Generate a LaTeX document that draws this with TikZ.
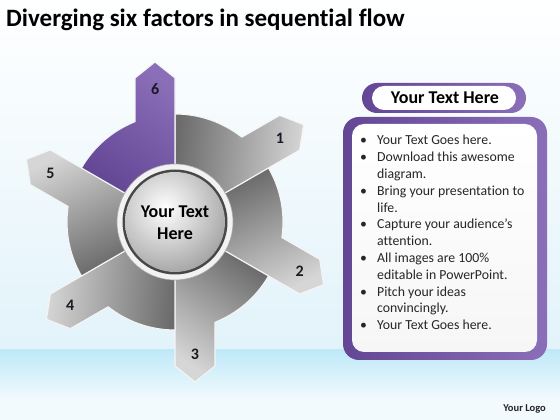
\documentclass[tikz,border=0pt]{standalone}
\usepackage{fontspec}
\setmainfont{Carlito}[Ligatures=NoCommon]
\usetikzlibrary{calc}
\definecolor{bgbot}{HTML}{E2F3FA}
\definecolor{bandtop}{HTML}{BFE9F8}
\definecolor{bandbot}{HTML}{F2FAFD}
\definecolor{glight}{HTML}{D6D6D6}
\definecolor{gdark}{HTML}{6C6C6C}
\definecolor{plight}{HTML}{8A6EB8}
\definecolor{pdark}{HTML}{634795}
\definecolor{numcol}{HTML}{1A1A24}
\newcommand{\sectorpath}[1]{(#1:57pt) -- (#1:144pt) -- ({#1+7.125}:161.25pt) -- ({#1+15.52}:149.45pt) -- ({#1+21.74}:108pt) arc[start angle={#1+21.74}, end angle={#1+60}, radius=108pt] -- ({#1+60}:57pt) arc[start angle={#1+60}, end angle=#1, radius=57pt] -- cycle}
\tikzset{
  numlabel/.style={font=\bfseries\fontsize{16}{18}\selectfont, text=numcol, inner sep=0pt},
  listline/.style={anchor=base west, inner sep=0pt, font=\fontsize{13.8}{16}\selectfont, text=black!85},
  sectorline/.style={draw=white!92!gray, line width=1.1pt, line join=round}
}
\begin{document}
\begin{tikzpicture}[x=1pt,y=1pt]
\useasboundingbox (0,0) rectangle (560,420);
% background
\shade[top color=white, bottom color=bgbot] (0,70) rectangle (560,420);
\shade[top color=bandtop, bottom color=bandbot] (0,20) rectangle (560,70);
\fill[bandbot] (0,0) rectangle (560,20.5);
% title
\node[anchor=base west, inner sep=0pt, font=\bfseries\fontsize{25}{28}\selectfont] (title) at (6,393) {Diverging six factors in sequential flow};
% wheel
\begin{scope}[shift={(175,198)}]
\foreach \a/\n/\lc/\dc in {30/1/glight/gdark, -30/2/glight/gdark, -90/3/glight/gdark, -150/4/glight/gdark, 150/5/glight/gdark, 90/6/plight/pdark}{
  \pgfmathsetmacro\sa{\a-125}
  \shade[top color=\lc, bottom color=\dc, shading angle=\sa, sectorline] \sectorpath{\a};
  \node[numlabel] (n\n) at ({\a+8.5}:134pt) {\n};
}
\fill[white!90!gray] (0,0) circle[radius=58pt];
\draw[gray!70, line width=0.6pt] (0,0) circle[radius=58pt];
\fill[black!72] (0,0) circle[radius=52.5pt];
\begin{scope}
\clip (0,0) circle[radius=50pt];
\shade[inner color=white, outer color=black!38] (-10,14) circle[radius=72pt];
\end{scope}
\node[align=center, font=\bfseries\fontsize{18}{22}\selectfont, inner sep=0pt] (ctr) at (0,-1) {Your Text\\Here};
\end{scope}
% right panel
\shade[left color=pdark, right color=plight, rounded corners=16pt] (343,60) rectangle (547,303);
\shade[top color=white, bottom color=white!93!gray, rounded corners=12pt] (352,68) rectangle (537,296);
\shade[left color=pdark, right color=plight, rounded corners=15pt] (362,307) rectangle (526,337);
\fill[white, rounded corners=12pt] (372,310) rectangle (516,334);
\node[font=\bfseries\fontsize{18}{20}\selectfont, inner sep=0pt] (head) at (445,322) {Your Text Here};
\foreach \k/\b/\t in {0/1/Your Text Goes here., 1/1/Download this awesome, 2/0/diagram., 3/1/Bring your presentation to, 4/0/life., 5/1/Capture your audience’s, 6/0/attention., 7/1/All images are 100\%, 8/0/editable in PowerPoint., 9/1/Pitch your ideas, 10/0/convincingly., 11/1/Your Text Goes here.}{
  \pgfmathsetmacro\yy{420-145-16.8*\k}
  \node[listline] (l\k) at (377,\yy) {\t};
  \ifnum\b=1 \node[listline] (b\k) at (360,\yy) {\textbullet};\fi
}
\node[anchor=base east, inner sep=0pt, font=\bfseries\fontsize{10.5}{12}\selectfont, text=black!85] (logo) at (546,8.5) {Your Logo};
\end{tikzpicture}
\end{document}
